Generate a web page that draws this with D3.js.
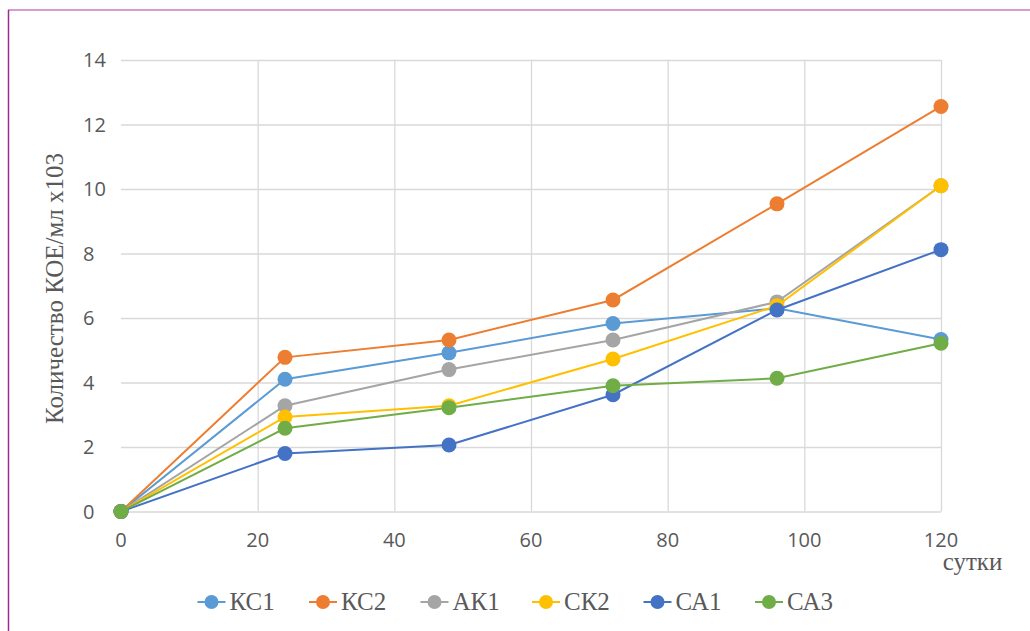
<!DOCTYPE html>
<html><head><meta charset="utf-8">
<script src="https://cdn.jsdelivr.net/npm/d3@7"></script>
<style>body{margin:0;background:#fff}svg{display:block}</style>
</head><body>
<svg id="c" width="1030" height="631"></svg>
<script>
const days = [0, 24, 48, 72, 96, 120];
const xTicks = [0, 20, 40, 60, 80, 100, 120];
const yTicks = [0, 2, 4, 6, 8, 10, 12, 14];
const seriesNames = ["КС1", "КС2", "АК1", "СК2", "СА1", "СА3"];
const seriesColors = ["#5B9BD5", "#ED7D31", "#A5A5A5", "#FFC000", "#4472C4", "#70AD47"];
const KC1 = [0, 4.10, 4.92, 5.83, 6.30, 5.33];
const KC2 = [0, 4.78, 5.32, 6.56, 9.54, 12.56];
const AK1 = [0, 3.28, 4.40, 5.32, 6.50, 10.10];
const CK2 = [0, 2.93, 3.28, 4.73, 6.38, 10.10];
const CA1 = [0, 1.80, 2.06, 3.62, 6.25, 8.12];
const CA3 = [0, 2.58, 3.22, 3.90, 4.13, 5.22];
const seriesValues = [KC1, KC2, AK1, CK2, CA1, CA3];
const yTitle = "Количество КОЕ/мл х103";
const xTitle = "сутки";

const svg = d3.select("#c");
const x = d3.scaleLinear().domain([0, 120]).range([121, 941]);
const y = d3.scaleLinear().domain([0, 14]).range([511.5, 60]);
const grid = "#D9D9D9";

// frame
svg.append("line").attr("x1", 8).attr("y1", 10).attr("x2", 1030).attr("y2", 10)
  .attr("stroke", "#C77DBF").attr("stroke-width", 1.5);
svg.append("line").attr("x1", 8.5).attr("y1", 10).attr("x2", 8.5).attr("y2", 631)
  .attr("stroke", "#9E2C8E").attr("stroke-width", 1.5);

// gridlines
const yAxis = d3.axisLeft(y).tickValues(yTicks).tickSize(-(x(120) - x(0))).tickFormat("");
svg.append("g").attr("transform", `translate(${x(0)},0)`).call(yAxis)
  .call(g => { g.select(".domain").remove(); g.selectAll("line").attr("stroke", grid).attr("stroke-width", 1.3); });
const xAxis = d3.axisBottom(x).tickValues(xTicks.slice(1)).tickSize(-(y(0) - y(14))).tickFormat("");
svg.append("g").attr("transform", `translate(0,${y(0)})`).call(xAxis)
  .call(g => { g.select(".domain").remove(); g.selectAll("line").attr("stroke", grid).attr("stroke-width", 1.3); });

// tick labels
const tickFont = "'Open Sans', sans-serif";
svg.append("g").selectAll("text").data(yTicks).join("text")
  .attr("x", 83).attr("y", d => y(d)).attr("dy", "0.36em")
  .attr("font-family", tickFont).attr("font-size", 20).attr("fill", "#595959")
  .text(d => d);
svg.append("g").selectAll("text").data(xTicks).join("text")
  .attr("x", d => x(d)).attr("y", 540).attr("dy", "0.36em").attr("text-anchor", "middle")
  .attr("font-family", tickFont).attr("font-size", 20).attr("fill", "#595959")
  .text(d => d);

// titles
const serif = "'Liberation Serif', 'Times New Roman', serif";
svg.append("text").attr("transform", "translate(55,288.5) rotate(-90)")
  .attr("text-anchor", "middle").attr("dy", "0.33em")
  .attr("font-family", serif).attr("font-size", 25).attr("fill", "#595959").text(yTitle);
svg.append("text").attr("x", 972.5).attr("y", 570).attr("text-anchor", "middle")
  .attr("font-family", serif).attr("font-size", 25).attr("fill", "#595959").text(xTitle);

// series
const line = d3.line().x((d, i) => x(days[i])).y(d => y(d));
seriesValues.forEach((vals, si) => {
  const g = svg.append("g");
  g.append("path").attr("d", line(vals)).attr("fill", "none")
    .attr("stroke", seriesColors[si]).attr("stroke-width", 2);
  g.selectAll("circle").data(vals).join("circle")
    .attr("cx", (d, i) => x(days[i])).attr("cy", d => y(d)).attr("r", 7.5)
    .attr("fill", seriesColors[si]);
});

// legend
const legX = d3.scaleLinear().domain([0, 5]).range([211.5, 769]);
const leg = svg.append("g").selectAll("g").data(seriesNames).join("g")
  .attr("transform", (d, i) => `translate(${legX(i)},602)`);
leg.append("line").attr("x1", -14).attr("x2", 14).attr("y1", 0).attr("y2", 0)
  .attr("stroke", (d, i) => seriesColors[i]).attr("stroke-width", 2);
leg.append("circle").attr("r", 7).attr("fill", (d, i) => seriesColors[i]);
leg.append("text").attr("x", 18).attr("dy", "0.33em")
  .attr("font-family", serif).attr("font-size", 25).attr("fill", "#595959").text(d => d);
</script>
</body></html>
